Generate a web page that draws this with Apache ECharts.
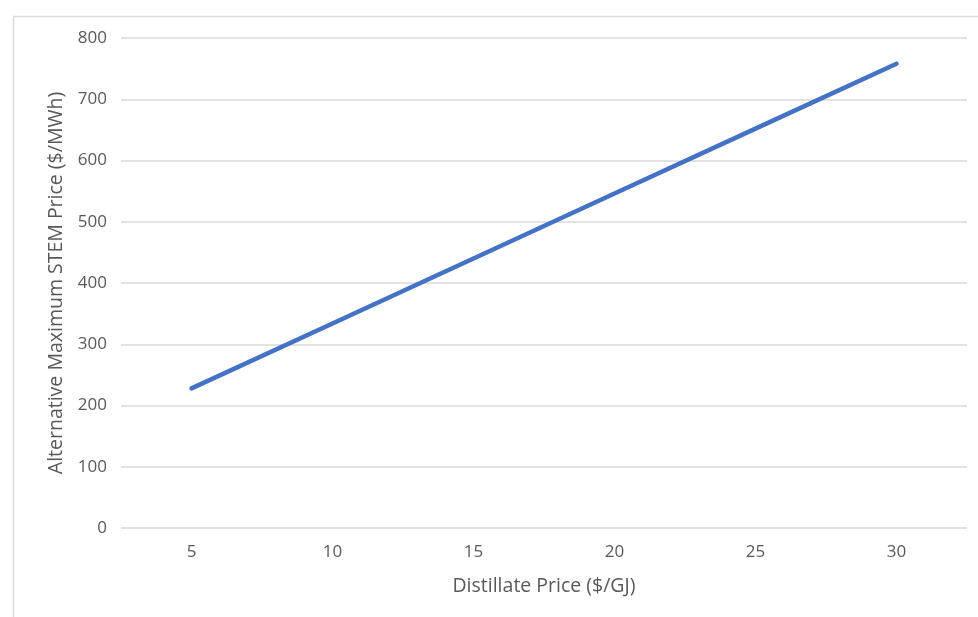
<!DOCTYPE html>
<html>
<head>
<meta charset="utf-8">
<script src="https://cdn.jsdelivr.net/npm/echarts@6/dist/echarts.min.js"></script>
<style>
  html, body { margin: 0; padding: 0; background: #fff; }
  #chart { width: 978px; height: 617px; }
</style>
</head>
<body>
<div id="chart"></div>
<script>
// Distillate price ($/GJ) on the x axis
const distillatePrices = ['5', '10', '15', '20', '25', '30'];
// Alternative maximum STEM price ($/MWh)
const stemPrices = [228, 334, 440, 546, 652, 758];
// Y axis range
const yMin = 0;
const yMax = 800;
const yStep = 100;

const textColor = '#595959';
const fontFamily = '"Open Sans", "Noto Sans", sans-serif';

const chart = echarts.init(document.getElementById('chart'), null, { renderer: 'canvas' });

chart.setOption({
  animation: false,
  backgroundColor: '#ffffff',
  textStyle: { fontFamily: fontFamily },
  graphic: [{
    type: 'rect',
    left: 11,
    top: 14,
    shape: { width: 1000, height: 700 },
    style: { fill: 'none', stroke: '#d9d9d9', lineWidth: 1.5 },
    silent: true,
    z: -1
  }],
  grid: {
    left: 121,
    right: 11,
    top: 38,
    bottom: 89,
    containLabel: false
  },
  xAxis: {
    type: 'category',
    data: distillatePrices,
    boundaryGap: true,
    name: 'Distillate Price ($/GJ)',
    nameLocation: 'middle',
    nameGap: 48,
    nameTextStyle: { color: textColor, fontSize: 19.5, fontFamily: fontFamily },
    axisLine: { show: false },
    axisTick: { show: false },
    axisLabel: { color: textColor, fontSize: 17, margin: 16, fontFamily: fontFamily },
    splitLine: { show: false }
  },
  yAxis: {
    type: 'value',
    min: yMin,
    max: yMax,
    interval: yStep,
    name: 'Alternative Maximum STEM Price ($/MWh)',
    nameLocation: 'middle',
    nameGap: 55,
    nameTextStyle: { color: textColor, fontSize: 19.5, fontFamily: fontFamily },
    axisLine: { show: false },
    axisTick: { show: false },
    axisLabel: { color: textColor, fontSize: 17, margin: 14, fontFamily: fontFamily },
    splitLine: { lineStyle: { color: '#d9d9d9', width: 1.5 } }
  },
  series: [{
    type: 'line',
    data: stemPrices,
    showSymbol: false,
    symbol: 'none',
    lineStyle: { color: '#4472c4', width: 4.5, cap: 'round' },
    itemStyle: { color: '#4472c4' }
  }]
});
</script>
</body>
</html>
